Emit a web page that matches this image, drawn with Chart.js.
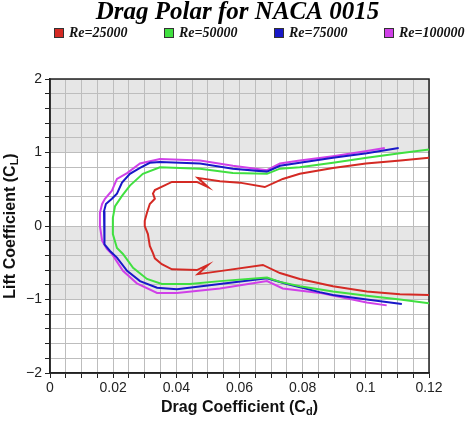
<!DOCTYPE html>
<html>
<head>
<meta charset="utf-8">
<script src="https://cdn.jsdelivr.net/npm/chart.js@4.4.1/dist/chart.umd.min.js"></script>
<style>
  html, body { margin: 0; padding: 0; background: #fff; }
  #wrap { position: relative; width: 475px; height: 423px; }
  #legend { position: absolute; top: 26px; left: 54px; display: flex; }
  .item { width: 110px; display: flex; align-items: center; height: 13px; }
  .box { width: 10px; height: 10px; box-sizing: border-box; border: 1px solid #333; }
  .label { margin-left: 5px; font: italic bold 14px "Liberation Serif", serif; color: #111; }
</style>
</head>
<body>
<div id="wrap">
  <canvas id="myChart" width="475" height="423"></canvas>
  <div id="legend"></div>
</div>
<script>
const seriesNames = ["Re=25000", "Re=50000", "Re=75000", "Re=100000"];
const seriesColors = ["#d42a24", "#40e040", "#1818c8", "#d040e8"];

// Re=25000
const cd25 = [0.120, 0.111, 0.100, 0.0896, 0.0791, 0.0737, 0.0680, 0.0601, 0.0538, 0.0468, 0.0500, 0.0465, 0.0386,
  0.0332, 0.0326, 0.0332, 0.0316, 0.0307, 0.0300, 0.0300, 0.0310, 0.0316, 0.0326, 0.0332, 0.0354, 0.0386,
  0.0465, 0.0500, 0.0468, 0.0538, 0.0674, 0.0728, 0.0791, 0.0896, 0.1003, 0.1108, 0.120];
const cl25 = [0.93, 0.89, 0.85, 0.79, 0.71, 0.64, 0.53, 0.59, 0.61, 0.655, 0.53, 0.60, 0.60,
  0.49, 0.44, 0.37, 0.30, 0.18, 0.07, 0.0, -0.11, -0.27, -0.37, -0.44, -0.52, -0.59,
  -0.60, -0.53, -0.655, -0.614, -0.53, -0.64, -0.72, -0.82, -0.89, -0.93, -0.94];

// Re=50000
const cd50 = [0.120, 0.1108, 0.1003, 0.0896, 0.0791, 0.0728, 0.0687, 0.0579, 0.0475, 0.0348, 0.0294, 0.0253,
  0.0228, 0.0206, 0.0199, 0.0199, 0.0199, 0.0212, 0.0231, 0.0263, 0.0307, 0.0354, 0.0443, 0.0538, 0.0687,
  0.0728, 0.0791, 0.0896, 0.1003, 0.1108, 0.120];
const cl50 = [1.04, 0.99, 0.93, 0.86, 0.80, 0.78, 0.71, 0.72, 0.78, 0.80, 0.71, 0.55,
  0.41, 0.27, 0.11, 0.0, -0.11, -0.30, -0.38, -0.57, -0.72, -0.79, -0.79, -0.75, -0.70,
  -0.76, -0.82, -0.89, -0.95, -1.0, -1.05];

// Re=75000
const cd75 = [0.1104, 0.1003, 0.0896, 0.0791, 0.0728, 0.0687, 0.0579, 0.0475, 0.0348, 0.0316, 0.0285, 0.0253,
  0.0228, 0.0212, 0.0196, 0.0177, 0.0171, 0.0171, 0.0174, 0.0190, 0.0212, 0.0244, 0.0285, 0.0339, 0.0402,
  0.0538, 0.0687, 0.0750, 0.0854, 0.0896, 0.1003, 0.1114];
const cl75 = [1.06, 0.99, 0.93, 0.86, 0.82, 0.74, 0.78, 0.85, 0.87, 0.86, 0.79, 0.71,
  0.59, 0.44, 0.37, 0.30, 0.20, 0.0, -0.25, -0.34, -0.43, -0.61, -0.75, -0.84, -0.86,
  -0.79, -0.71, -0.79, -0.90, -0.94, -1.0, -1.06];

// Re=100000
const cd100 = [0.1060, 0.1003, 0.0896, 0.0791, 0.0728, 0.0687, 0.0579, 0.0475, 0.0348, 0.0285, 0.0244, 0.0212,
  0.0196, 0.0174, 0.0165, 0.0158, 0.0158, 0.0165, 0.0180, 0.0196, 0.0231, 0.0275, 0.0339, 0.0402, 0.0538,
  0.0687, 0.0737, 0.0854, 0.1003, 0.1066];
const cl100 = [1.06, 1.02, 0.95, 0.89, 0.85, 0.76, 0.82, 0.89, 0.91, 0.85, 0.72, 0.64,
  0.48, 0.37, 0.30, 0.18, 0.0, -0.20, -0.31, -0.38, -0.61, -0.78, -0.91, -0.91, -0.85,
  -0.75, -0.85, -0.91, -1.04, -1.08];

const cdSeries = [cd25, cd50, cd75, cd100];
const clSeries = [cl25, cl50, cl75, cl100];

const xTickLabels = [0, 0.02, 0.04, 0.06, 0.08, 0.1, 0.12];
const yTickLabels = [-2, -1, 0, 1, 2];
const grayBands = [[1, 2], [-1, 0]];

// grid every 0.005 in Cd, every 0.2 in CL
const xGrid = [];
for (let i = 0; i <= 24; i++) xGrid.push(+(i * 0.005).toFixed(3));
const yGrid = [];
for (let i = -10; i <= 10; i++) yGrid.push(+(i * 0.2).toFixed(1));

const isLabel = (list, v) => list.some(t => Math.abs(t - v) < 1e-9);

const bandsPlugin = {
  id: "bands",
  beforeDraw(chart) {
    const { ctx, chartArea, scales } = chart;
    ctx.save();
    ctx.fillStyle = "#fff";
    ctx.fillRect(0, 0, chart.width, chart.height);
    ctx.fillStyle = "#e6e6e6";
    grayBands.forEach(([lo, hi]) => {
      const yTop = scales.y.getPixelForValue(hi);
      const yBot = scales.y.getPixelForValue(lo);
      ctx.fillRect(chartArea.left, yTop, chartArea.right - chartArea.left, yBot - yTop);
    });
    ctx.restore();
  },
  beforeDatasetsDraw(chart) {
    const { ctx, chartArea } = chart;
    ctx.save();
    ctx.strokeStyle = "#222";
    ctx.lineWidth = 1.5;
    ctx.strokeRect(chartArea.left, chartArea.top, chartArea.right - chartArea.left, chartArea.bottom - chartArea.top);
    ctx.restore();
  }
};

// axis titles with subscripts
function drawSubTitle(ctx, x, y, main, sub, tail) {
  const big = 'bold 16px "Liberation Sans", Arial, sans-serif';
  const small = 'bold 11px "Liberation Sans", Arial, sans-serif';
  ctx.font = big;
  const w1 = ctx.measureText(main).width;
  const w3 = ctx.measureText(tail).width;
  ctx.font = small;
  const w2 = ctx.measureText(sub).width;
  let cx = x - (w1 + w2 + w3) / 2;
  ctx.textAlign = "left";
  ctx.textBaseline = "middle";
  ctx.fillStyle = "#111";
  ctx.font = big;
  ctx.fillText(main, cx, y);
  cx += w1;
  ctx.font = small;
  ctx.fillText(sub, cx, y + 4);
  cx += w2;
  ctx.font = big;
  ctx.fillText(tail, cx, y);
}

const axisTitlePlugin = {
  id: "axisTitles",
  afterDraw(chart) {
    const { ctx, chartArea } = chart;
    ctx.save();
    drawSubTitle(ctx, (chartArea.left + chartArea.right) / 2, 408, "Drag Coefficient (C", "d", ")");
    ctx.translate(11, (chartArea.top + chartArea.bottom) / 2);
    ctx.rotate(-Math.PI / 2);
    drawSubTitle(ctx, 0, 0, "Lift Coefficient (C", "L", ")");
    ctx.restore();
  }
};

const datasets = seriesNames.map((name, s) => ({
  label: name,
  data: cdSeries[s].map((x, i) => ({ x: x, y: clSeries[s][i] })),
  borderColor: seriesColors[s],
  backgroundColor: seriesColors[s],
  borderWidth: 2,
  pointRadius: 0,
  showLine: true,
  tension: 0,
  fill: false
}));

const tickFont = { family: '"Liberation Sans", Arial, sans-serif', size: 14 };

const config = {
  type: "scatter",
  data: { datasets: datasets },
  options: {
    responsive: false,
    animation: false,
    devicePixelRatio: 1,
    layout: { padding: 0 },
    plugins: {
      legend: { display: false },
      tooltip: { enabled: false },
      title: {
        display: true,
        text: "Drag Polar for NACA 0015",
        color: "#000",
        font: { family: '"Liberation Serif", "Times New Roman", serif', size: 25, style: "italic", weight: "bold" },
        padding: { top: -2, bottom: 51 }
      }
    },
    scales: {
      x: {
        type: "linear",
        min: 0,
        max: 0.12,
        afterBuildTicks: scale => { scale.ticks = xGrid.map(v => ({ value: v })); },
        afterFit: scale => { scale.height = 50; },
        ticks: {
          autoSkip: false,
          maxRotation: 0,
          padding: 2,
          color: "#222",
          font: tickFont,
          callback: v => isLabel(xTickLabels, v) ? String(+v.toFixed(3)) : ""
        },
        grid: { color: "#bdbdbd", tickLength: 5, tickColor: "#222", lineWidth: 1 },
        border: { display: true, color: "#222", width: 1.5 }
      },
      y: {
        type: "linear",
        min: -2,
        max: 2,
        afterBuildTicks: scale => { scale.ticks = yGrid.map(v => ({ value: v })); },
        afterFit: scale => { scale.width = 50; },
        ticks: {
          autoSkip: false,
          padding: 3,
          color: "#222",
          font: tickFont,
          callback: v => isLabel(yTickLabels, v) ? (v < 0 ? "\u2212" + Math.abs(Math.round(v)) : String(Math.round(v))) : ""
        },
        grid: { color: "#bdbdbd", tickLength: 5, tickColor: "#222", lineWidth: 1 },
        border: { display: true, color: "#222", width: 1.5 }
      },
      yRight: {
        type: "linear",
        position: "right",
        display: true,
        afterFit: scale => { scale.width = 46; },
        ticks: { display: false },
        grid: { display: false },
        border: { display: false }
      }
    }
  },
  plugins: [bandsPlugin, axisTitlePlugin]
};

const myChart = new Chart(document.getElementById("myChart"), config);

document.getElementById("legend").innerHTML = myChart.data.datasets.map(d =>
  `<div class="item"><span class="box" style="background:${d.backgroundColor}"></span><span class="label">${d.label}</span></div>`
).join("");
</script>
</body>
</html>
